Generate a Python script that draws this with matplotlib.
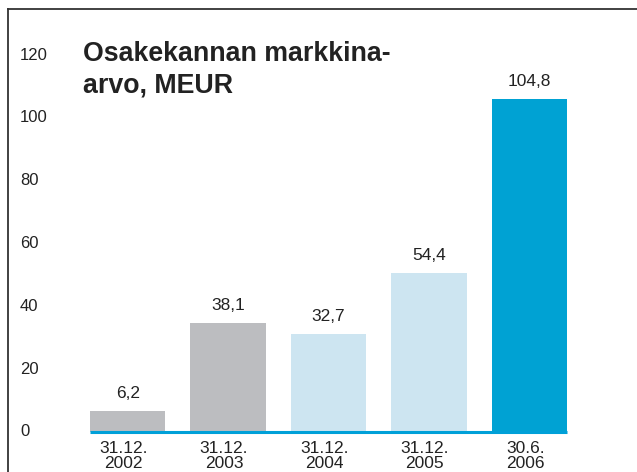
import matplotlib
matplotlib.use("Agg")
import matplotlib.pyplot as plt
from matplotlib.lines import Line2D
from matplotlib.transforms import blended_transform_factory

plt.rcParams['font.family'] = ['Liberation Sans', 'DejaVu Sans']

categories = ["31.12.\n2002", "31.12.\n2003", "31.12.\n2004", "31.12.\n2005", "30.6.\n2006"]
bar_heights = [6.7, 34.8, 31.3, 50.7, 106.0]
bar_labels = ["6,2", "38,1", "32,7", "54,4", "104,8"]
colors = ["#BCBDC0", "#BCBDC0", "#CDE5F1", "#CDE5F1", "#00A2D3"]
yticks = [0, 20, 40, 60, 80, 100, 120]
title = "Osakekannan markkina-\narvo, MEUR"

W, H = 637, 472
fig = plt.figure(figsize=(W / 100, H / 100), dpi=100)
ax = fig.add_axes([90 / W, 40 / H, 477 / W, 392.7 / H])

x = list(range(len(categories)))
ax.bar(x, bar_heights, width=0.75, color=colors, zorder=2)
ax.set_xlim(-0.375, len(categories) - 1 + 0.375)
ax.set_ylim(0, 125)

for xi, h, lab in zip(x, bar_heights, bar_labels):
    ax.annotate(lab, (xi, h), xytext=(0, 7), textcoords="offset points",
                ha="center", va="bottom", fontsize=12.5, color="#222222")

ax.axhline(0, color="#00A0D8", lw=2.2, zorder=3, clip_on=False,
           solid_capstyle="butt")

for s in ax.spines.values():
    s.set_visible(False)
ax.set_yticks([])
ax.set_xticks([])

trans_y = blended_transform_factory(fig.transFigure, ax.transData)
for t in yticks:
    fig.text(20 / W, t, str(t), transform=trans_y, ha="left", va="center",
             fontsize=12, color="#222222")

for xi, c in zip(x, categories):
    ax.text(xi - 0.04, -3.0, c, ha="center", va="top", fontsize=12.5,
            color="#222222", linespacing=0.95)

fig.text(83 / W, 1 - 41 / H, title, ha="left", va="top", fontsize=19.3,
         fontweight="bold", color="#222222", linespacing=1.28)

fig.add_artist(Line2D([7.5 / W, 7.5 / W], [0, 1 - 9 / H], color="#333333", lw=1.3,
                      transform=fig.transFigure))
fig.add_artist(Line2D([7.5 / W, 1], [1 - 9 / H, 1 - 9 / H], color="#333333", lw=1.3,
                      transform=fig.transFigure))

fig.savefig("out.png", dpi=100)
